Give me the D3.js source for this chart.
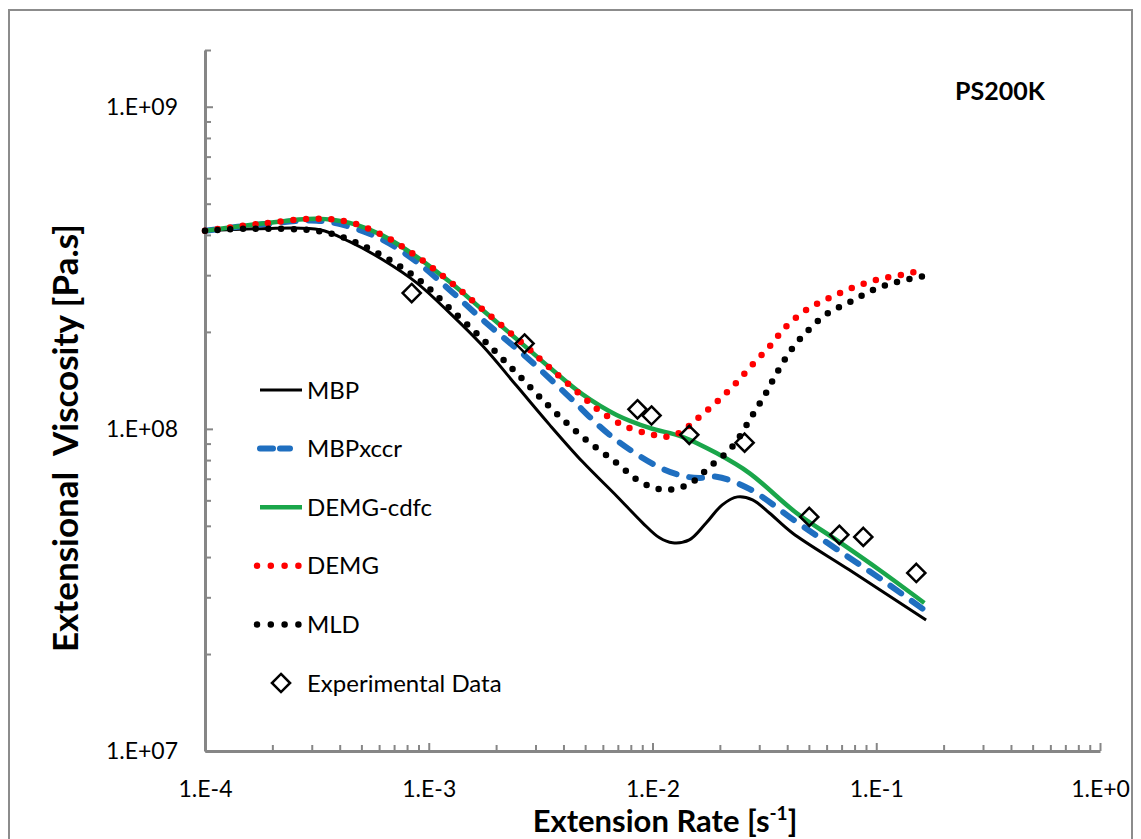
<!DOCTYPE html>
<html>
<head>
<meta charset="utf-8">
<script src="https://cdn.jsdelivr.net/npm/d3@7"></script>
<style>
  html, body { margin: 0; padding: 0; background: #fff; }
  svg { display: block; }
  text { font-family: Lato, "Open Sans", sans-serif; fill: #000; white-space: pre; }
</style>
</head>
<body>
<svg id="chart" width="1141" height="839"></svg>
<script>
// ---------- data ----------
const seriesNames = ["MBP", "MBPxccr", "DEMG-cdfc", "DEMG", "MLD"];

const mbpRate = [1e-4, 1.76e-4, 3.26e-4, 4.43e-4, 6.23e-4, 8.84e-4, 1.24e-3, 1.74e-3, 2.47e-3, 3.47e-3, 4.87e-3, 6.91e-3, 9.03e-3, 1.075e-2, 1.23e-2, 1.46e-2, 1.74e-2, 2.05e-2, 2.40e-2, 2.80e-2, 3.33e-2, 4.22e-2, 7.57e-2, 0.167];
const mbpVisc = [4.12e8, 4.18e8, 4.15e8, 3.81e8, 3.35e8, 2.84e8, 2.29e8, 1.81e8, 1.36e8, 1.029e8, 7.90e7, 6.19e7, 5.11e7, 4.59e7, 4.43e7, 4.52e7, 5.11e7, 5.81e7, 6.15e7, 6.02e7, 5.48e7, 4.75e7, 3.65e7, 2.55e7];

const xccrRate = [1e-4, 1.76e-4, 3.16e-4, 4.43e-4, 6.23e-4, 8.84e-4, 1.24e-3, 1.74e-3, 2.68e-3, 4.13e-3, 6.43e-3, 1.04e-2, 1.36e-2, 1.62e-2, 1.93e-2, 2.71e-2, 4.40e-2, 6.63e-2, 0.106, 0.164];
const xccrVisc = [4.12e8, 4.31e8, 4.43e8, 4.24e8, 3.86e8, 3.30e8, 2.70e8, 2.18e8, 1.69e8, 1.28e8, 9.58e7, 7.68e7, 7.15e7, 7.04e7, 7.10e7, 6.51e7, 5.14e7, 4.24e7, 3.40e7, 2.74e7];

const cdfcRate = [1e-4, 1.76e-4, 3.16e-4, 4.43e-4, 6.23e-4, 8.84e-4, 1.24e-3, 1.74e-3, 2.68e-3, 3.47e-3, 4.87e-3, 6.91e-3, 9.70e-3, 1.36e-2, 1.93e-2, 2.71e-2, 4.40e-2, 6.63e-2, 0.106, 0.164];
const cdfcVisc = [4.12e8, 4.33e8, 4.49e8, 4.36e8, 3.98e8, 3.42e8, 2.86e8, 2.34e8, 1.81e8, 1.55e8, 1.28e8, 1.105e8, 1.007e8, 9.45e7, 8.41e7, 7.29e7, 5.48e7, 4.52e7, 3.60e7, 2.88e7];

const demgRate = [1e-4, 1.76e-4, 3.16e-4, 4.43e-4, 6.23e-4, 8.84e-4, 1.24e-3, 1.74e-3, 2.68e-3, 3.47e-3, 4.87e-3, 5.98e-3, 7.66e-3, 9.70e-3, 1.13e-2, 1.32e-2, 1.57e-2, 1.93e-2, 2.32e-2, 2.79e-2, 3.33e-2, 3.96e-2, 4.87e-2, 6.17e-2, 7.81e-2, 0.1, 0.131, 0.151];
const demgVisc = [4.12e8, 4.33e8, 4.49e8, 4.38e8, 3.99e8, 3.43e8, 2.87e8, 2.35e8, 1.82e8, 1.55e8, 1.26e8, 1.12e8, 1.014e8, 9.65e7, 9.45e7, 9.72e7, 1.07e8, 1.21e8, 1.37e8, 1.58e8, 1.80e8, 2.08e8, 2.34e8, 2.55e8, 2.74e8, 2.90e8, 3.01e8, 3.08e8];

const mldRate = [1e-4, 1.59e-4, 3.37e-4, 4.77e-4, 6.91e-4, 9.40e-4, 1.24e-3, 1.74e-3, 2.47e-3, 3.47e-3, 4.87e-3, 6.91e-3, 9.02e-3, 1.15e-2, 1.46e-2, 1.80e-2, 2.27e-2, 2.77e-2, 3.19e-2, 3.61e-2, 4.17e-2, 4.92e-2, 6.04e-2, 7.65e-2, 9.70e-2, 0.124, 0.160];
const mldVisc = [4.12e8, 4.18e8, 4.09e8, 3.78e8, 3.30e8, 2.84e8, 2.37e8, 1.90e8, 1.49e8, 1.17e8, 9.44e7, 7.84e7, 6.79e7, 6.47e7, 6.75e7, 7.62e7, 8.79e7, 1.09e8, 1.28e8, 1.50e8, 1.76e8, 2.01e8, 2.28e8, 2.48e8, 2.70e8, 2.86e8, 2.97e8];

const expRate = [8.39e-4, 2.68e-3, 8.57e-3, 9.90e-3, 1.46e-2, 2.58e-2, 5.02e-2, 6.84e-2, 8.75e-2, 0.151];
const expVisc = [2.64e8, 1.84e8, 1.15e8, 1.10e8, 9.58e7, 9.06e7, 5.33e7, 4.69e7, 4.62e7, 3.57e7];

const xTickValues = [1e-4, 1e-3, 1e-2, 1e-1, 1];
const xTickLabels = ["1.E-4", "1.E-3", "1.E-2", "1.E-1", "1.E+0"];
const yTickValues = [1e7, 1e8, 1e9];
const yTickLabels = ["1.E+07", "1.E+08", "1.E+09"];

const legendLabels = ["MBP", "MBPxccr", "DEMG-cdfc", "DEMG", "MLD", "Experimental Data"];
const sampleName = "PS200K";
const xTitle = "Extension Rate [s";
const xTitleSup = "-1";
const yTitle = "Extensional  Viscosity [Pa.s]";

// ---------- styles ----------
const styles = [
  { color: "#000000", width: 3, dash: null, cap: "butt" },
  { color: "#1f6fc0", width: 6, dash: "13 13", cap: "round" },
  { color: "#1aa64a", width: 4.5, dash: null, cap: "butt" },
  { color: "#ff0000", width: 6.5, dash: "0 12.7", cap: "round" },
  { color: "#000000", width: 6.5, dash: "0 12.7", cap: "round" }
];

const seriesData = [
  d3.zip(mbpRate, mbpVisc),
  d3.zip(xccrRate, xccrVisc),
  d3.zip(cdfcRate, cdfcVisc),
  d3.zip(demgRate, demgVisc),
  d3.zip(mldRate, mldVisc)
];
const expData = d3.zip(expRate, expVisc);

// ---------- layout ----------
const svg = d3.select("#chart");

// outer frame
svg.append("rect").attr("x", 9).attr("y", 10).attr("width", 1123).attr("height", 840)
  .attr("fill", "none").attr("stroke", "#8c8c8c").attr("stroke-width", 2);

const x = d3.scaleLog().domain([1e-4, 1]).range([205, 1100]);
const y = d3.scaleLog().domain([1e7, 1.5e9]).range([751, 50]);

const axisColor = "#868686";

function minorTicks(lo, hi) {
  const out = [];
  for (let e = lo; e < hi; e++) for (let k = 2; k <= 9; k++) out.push(k * Math.pow(10, e));
  return out;
}
const xMinor = minorTicks(-4, 0);
const yMinor = minorTicks(7, 9);

// x axis
const gx = svg.append("g").attr("transform", "translate(0,751)");
gx.call(d3.axisBottom(x).tickValues(xMinor).tickSize(-6).tickFormat(""));
gx.call(g => g.select(".domain").remove());
const gx2 = svg.append("g").attr("transform", "translate(0,751)");
gx2.call(d3.axisBottom(x).tickValues(xTickValues).tickSizeInner(-8).tickSizeOuter(0).tickPadding(30)
  .tickFormat((d, i) => xTickLabels[i]));
[gx, gx2].forEach(g => {
  g.selectAll("line").attr("stroke", axisColor).attr("stroke-width", 2);
  g.selectAll(".domain").attr("stroke", axisColor).attr("stroke-width", 3);
  g.selectAll("text").attr("font-size", 23).attr("font-family", "Lato, sans-serif").attr("fill", "#000");
});

// y axis
const gy = svg.append("g").attr("transform", "translate(205,0)");
gy.call(d3.axisLeft(y).tickValues(yMinor.concat([1.5e9])).tickSize(-6).tickFormat(""));
gy.call(g => g.select(".domain").remove());
const gy2 = svg.append("g").attr("transform", "translate(205,0)");
gy2.call(d3.axisLeft(y).tickValues(yTickValues).tickSizeInner(-8).tickSizeOuter(0).tickPadding(27)
  .tickFormat((d, i) => yTickLabels[i]));
[gy, gy2].forEach(g => {
  g.selectAll("line").attr("stroke", axisColor).attr("stroke-width", 2);
  g.selectAll(".domain").attr("stroke", axisColor).attr("stroke-width", 3);
  g.selectAll("text").attr("font-size", 23).attr("font-family", "Lato, sans-serif").attr("fill", "#000");
});

// series
const line = d3.line().x(d => x(d[0])).y(d => y(d[1])).curve(d3.curveCatmullRom.alpha(0.5));
seriesData.forEach((data, i) => {
  const s = styles[i];
  svg.append("path").datum(data).attr("d", line)
    .attr("fill", "none").attr("stroke", s.color).attr("stroke-width", s.width)
    .attr("stroke-dasharray", s.dash).attr("stroke-linecap", s.cap).attr("stroke-linejoin", "round");
});

// experimental diamonds
const diamond = d3.symbol().type(d3.symbolDiamond2).size(210);
svg.append("g").selectAll("path").data(expData).join("path")
  .attr("transform", d => `translate(${x(d[0])},${y(d[1])})`)
  .attr("d", diamond)
  .attr("fill", "none").attr("stroke", "#000").attr("stroke-width", 2.5);

// legend
const legY0 = 390, legDy = 58.6;
const leg = svg.append("g");
legendLabels.forEach((lab, i) => {
  const yy = legY0 + i * legDy;
  if (i < 5) {
    const s = styles[i];
    leg.append("line").attr("x1", i === 3 || i === 4 ? 257 : 260).attr("x2", i === 1 ? 290 : (i === 3 || i === 4 ? 299 : 302))
      .attr("y1", yy).attr("y2", yy)
      .attr("stroke", s.color).attr("stroke-width", s.width)
      .attr("stroke-dasharray", i === 1 ? "13 7" : (s.dash ? "0 13.8" : null))
      .attr("stroke-linecap", s.cap);
  } else {
    leg.append("path").attr("transform", `translate(281,${yy})`).attr("d", diamond)
      .attr("fill", "none").attr("stroke", "#000").attr("stroke-width", 2.5);
  }
  leg.append("text").attr("x", 307).attr("y", yy).attr("dy", "0.36em")
    .attr("font-size", 24).text(lab);
});

// sample label
svg.append("text").attr("x", 955).attr("y", 100).attr("font-size", 25).attr("font-weight", 700).text(sampleName);

// axis titles
const xt = svg.append("text").attr("x", 665).attr("y", 832).attr("text-anchor", "middle")
  .attr("font-size", 31).attr("font-weight", 700);
xt.append("tspan").text(xTitle);
xt.append("tspan").attr("font-size", 19).attr("dy", -12).text(xTitleSup);
xt.append("tspan").attr("dy", 12).text("]");

svg.append("text").attr("transform", "translate(78,438) rotate(-90)").attr("text-anchor", "middle")
  .attr("font-size", 35).attr("font-weight", 700).text(yTitle);
</script>
</body>
</html>
